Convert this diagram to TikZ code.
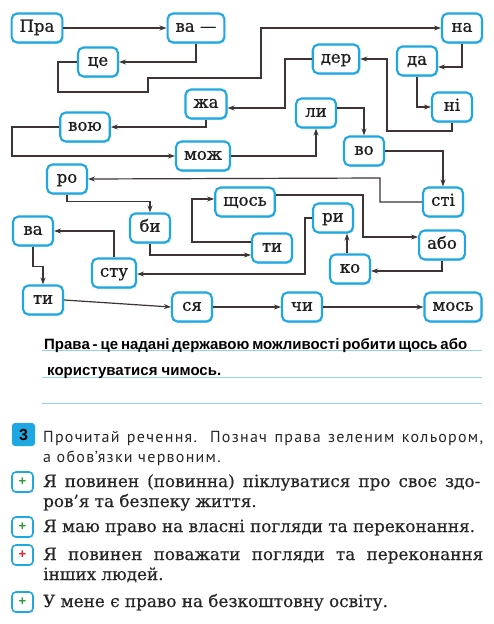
\documentclass[tikz,border=0pt]{standalone}
\usepackage{fontspec}
\setmainfont{DejaVu Serif}
\newfontfamily\boxfont[FakeBold=0.9]{DejaVu Serif}
\newfontfamily\itemfont[FakeBold=0.5]{DejaVu Serif}
\newfontfamily\ansfont{Liberation Sans}
\newfontfamily\headfont[LetterSpace=8]{PT Sans}
\newfontfamily\numfont{Liberation Sans}
\usetikzlibrary{arrows.meta,calc,shadows}
\definecolor{bbord}{HTML}{1EA7E1}
\definecolor{lnk}{HTML}{3D3433}
\definecolor{rule}{HTML}{8FD3F0}
\definecolor{pgreen}{HTML}{2E9A3A}
\definecolor{pred}{HTML}{E8202A}
\begin{document}
\begin{tikzpicture}[x=1pt,y=-1pt,
  wb/.style={draw=bbord, line width=2.1pt, rounded corners=5.5pt, fill=white,
    minimum width=40pt, minimum height=29pt, inner xsep=8pt, inner ysep=0pt,
    text height=11pt, text depth=3.5pt,
    font=\boxfont\fontsize{16.5}{16}\selectfont, text=black!88,
    drop shadow={shadow xshift=1pt, shadow yshift=-1.4pt, fill=bbord!30, opacity=1}},
  arr/.style={draw=lnk, line width=1.2pt, -{Stealth[length=7pt,width=5pt]}},
  pbox/.style={draw=bbord, line width=1.6pt, rounded corners=4pt, fill=white,
    minimum width=21pt, minimum height=20pt, inner sep=0pt,
    font=\numfont\bfseries\fontsize{13}{13}\selectfont,
    drop shadow={shadow xshift=0.7pt, shadow yshift=-1.1pt, fill=bbord!30, opacity=1}},
  ans/.style={anchor=base west, inner sep=0pt, font=\ansfont\bfseries\fontsize{15}{15}\selectfont},
  head/.style={anchor=base west, inner sep=0pt, font=\headfont\fontsize{16}{16}\selectfont, text=black!85},
  item/.style={anchor=base west, inner sep=0pt, font=\itemfont\fontsize{16.8}{17}\selectfont, text=black!85},
  ruleline/.style={draw=rule, line width=0.7pt}
]
\useasboundingbox (0,0) rectangle (494,624);
\fill[white] (0,0) rectangle (494,624);

% word boxes
\node[wb] (pra) at (37,28) {Пра};
\node[wb] (va1) at (196,28) {ва —};
\node[wb] (ce) at (98,62) {це};
\node[wb] (na) at (462,28) {на};
\node[wb] (der) at (336,59) {дер};
\node[wb] (da) at (417,61) {да};
\node[wb] (ni) at (452,107) {ні};
\node[wb] (zha) at (206,104) {жа};
\node[wb] (li) at (316,113) {ли};
\node[wb] (voyu) at (85,127) {вою};
\node[wb] (mozh) at (203,156) {мож};
\node[wb] (vo) at (364,151) {во};
\node[wb] (ro) at (67,179) {ро};
\node[wb] (sti) at (443,202) {сті};
\node[wb] (shchos) at (245,202) {щось};
\node[wb] (ri) at (333,218) {ри};
\node[wb] (bi) at (150,228) {би};
\node[wb] (va2) at (33,231) {ва};
\node[wb] (abo) at (442,245) {або};
\node[wb] (ti2) at (272,248) {ти};
\node[wb] (ko) at (350,269) {ко};
\node[wb] (stu) at (114,273) {сту};
\node[wb] (ti1) at (43,300) {ти};
\node[wb] (sya) at (192,307) {ся};
\node[wb] (chi) at (302,307) {чи};
\node[wb] (mos) at (453,307) {мось};

% connectors
\draw[arr] (pra.east) -- (va1.west);
\draw[arr] (va1.south) |- (ce.east);
\draw[arr] (ce.west) -| (58,92) -| (148,78) -| (261,28) -- (na.west);
\draw[arr] (na.south) |- ($(da.east)+(0,6)$);
\draw[arr] (da.south) |- (ni.west);
\draw[arr] (ni.south) |- (387,131) |- (der.east);
\draw[arr] (der.west) -| (285,108) -- ($(zha.east)+(0,4)$);
\draw[arr] (zha.south) |- (voyu.east);
\draw[arr] (voyu.west) -| (12,156) -- (mozh.west);
\draw[arr] (mozh.east) -| (li.south);
\draw[arr] ($(li.east)+(0,-5)$) -| (vo.north);
\draw[arr] (vo.east) -| (sti.north);
\draw[arr] (sti.west) -| (380,178) -- (ro.east);
\draw[arr] (ro.south) |- ($(bi.north)+(0,-11)$) -- (bi.north);
\draw[arr] (bi.south) |- ($(ti2.west)+(0,7)$);
\draw[arr] ($(ti2.west)+(0,-6)$) -| (192,199) -- ($(shchos.west)+(0,-3)$);
\draw[arr] ($(shchos.east)+(0,-7)$) -| (363,237) -- ($(abo.west)+(0,-8)$);
\draw[arr] (abo.south) |- ($(ko.east)+(0,2)$);
\draw[arr] ($(ko.north)+(-3,0)$) -- ($(ko.north |- ri.south)+(-3,0)$);
\draw[arr] (ri.west) -| (305,274) -- ($(stu.east)+(0,1)$);
\draw[arr] (stu.north) |- (va2.east);
\draw[arr] (va2.south) |- ($(ti1.north)+(0,-18)$) -- (ti1.north);
\draw[arr] (ti1.east) -- (sya.west);
\draw[arr] (sya.east) -- (chi.west);
\draw[arr] (chi.east) -- (mos.west);

% answer lines
\draw[ruleline] (42,350) -- (482,350);
\draw[ruleline] (42,377) -- (482,377);
\draw[ruleline] (42,403) -- (482,403);
\node[ans] (a1) at (44,349) {\makebox[423pt][s]{Права - це надані державою можливості робити щось або}};
\node[ans] (a2) at (47,375) {користуватися чимось.};

% exercise 3
\node[fill=bbord, rounded corners=3pt, minimum width=23pt, minimum height=23pt, inner sep=0pt,
      font=\numfont\bfseries\fontsize{16}{16}\selectfont] (n3) at (23.5,434.5) {3};
\node[head] (h1) at (43,442) {\makebox[440pt][s]{Прочитай речення. Познач права зеленим кольором,}};
\node[head] (h2) at (43,462) {а обов’язки червоним.};

\node[pbox, text=pgreen] (p1) at (22.5,482) {+};
\node[pbox, text=pgreen] (p2) at (22.5,527) {+};
\node[pbox, text=pred] (p3) at (22.5,555) {+};
\node[pbox, text=pgreen] (p4) at (22.5,602) {+};

\node[item] (i1a) at (43,487) {\makebox[437pt][s]{Я повинен (повинна) піклуватися про своє здо-}};
\node[item] (i1b) at (43,507) {ров’я та безпеку життя.};
\node[item] (i2) at (43,532) {Я маю право на власні погляди та переконання.};
\node[item] (i3a) at (43,560) {\makebox[440pt][s]{Я повинен поважати погляди та переконання}};
\node[item] (i3b) at (43,580) {інших людей.};
\node[item] (i4) at (43,607) {У мене є право на безкоштовну освіту.};
\end{tikzpicture}
\end{document}
